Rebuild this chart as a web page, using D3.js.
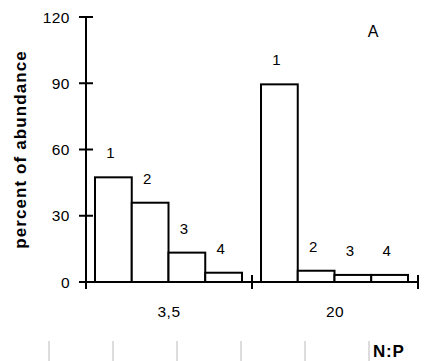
<!DOCTYPE html>
<html>
<head>
<meta charset="utf-8">
<script src="https://cdn.jsdelivr.net/npm/d3@7"></script>
<style>
  body { margin: 0; background: #fff; }
  svg { display: block; }
  text { font-family: "Liberation Sans", Arial, sans-serif; }
</style>
</head>
<body>
<div id="chart"></div>
<script>
// N:P ratio groups, four classes per group
const groups = ['3,5', '20'];
const classes = ['1', '2', '3', '4'];
const abundance35 = [47.4, 35.9, 13.3, 4.2];
const abundance20 = [89.5, 5.1, 3.2, 3.2];
const yTicks = [0, 30, 60, 90, 120];

(function() {
  const width = 426;
  const height = 361;
  const margin = { left: 86, right: 8, top: 17, bottom: 79 };

  const svg = d3.select('#chart').append('svg')
    .attr('width', width)
    .attr('height', height);

  const x0 = d3.scaleBand()
    .domain(groups)
    .range([margin.left, width - margin.right]);

  const x1 = d3.scaleBand()
    .domain(classes)
    .range([9, x0.bandwidth() - 10]);

  const y = d3.scaleLinear()
    .domain([0, 120])
    .range([height - margin.bottom, margin.top]);

  const rows = groups.map((g, i) => ({
    group: g,
    values: (i === 0 ? abundance35 : abundance20).map((v, j) => ({ cls: classes[j], value: v }))
  }));

  // bars
  const grp = svg.append('g').selectAll('g')
    .data(rows)
    .enter().append('g')
    .attr('transform', d => `translate(${x0(d.group)},0)`);

  grp.selectAll('rect')
    .data(d => d.values)
    .enter().append('rect')
    .attr('x', d => x1(d.cls))
    .attr('y', d => y(d.value))
    .attr('width', x1.bandwidth())
    .attr('height', d => y(0) - y(d.value))
    .attr('fill', '#fff')
    .attr('stroke', '#000')
    .attr('stroke-width', 2);

  grp.selectAll('text')
    .data(d => d.values)
    .enter().append('text')
    .attr('x', d => x1(d.cls) + x1.bandwidth() / 2 - 3)
    .attr('y', d => y(d.value) - 19)
    .attr('text-anchor', 'middle')
    .style('font-size', '15px')
    .text(d => d.cls);

  // y axis
  const yAxis = svg.append('g');
  yAxis.append('line')
    .attr('x1', margin.left).attr('x2', margin.left)
    .attr('y1', y(120)).attr('y2', y(0) + 7)
    .attr('stroke', '#000').attr('stroke-width', 2);
  yAxis.selectAll('.tick')
    .data(yTicks)
    .enter().append('line')
    .attr('x1', margin.left - 7).attr('x2', margin.left + 7)
    .attr('y1', d => y(d)).attr('y2', d => y(d))
    .attr('stroke', '#000').attr('stroke-width', 2);
  yAxis.selectAll('text')
    .data(yTicks)
    .enter().append('text')
    .attr('x', 70)
    .attr('y', d => y(d) + 5.5)
    .attr('text-anchor', 'end')
    .style('font-size', '15.5px')
    .style('letter-spacing', '0.5px')
    .text(d => d);

  // x axis
  const xAxis = svg.append('g');
  xAxis.append('line')
    .attr('x1', margin.left).attr('x2', width - margin.right)
    .attr('y1', y(0)).attr('y2', y(0))
    .attr('stroke', '#000').attr('stroke-width', 2);
  const bounds = groups.map(g => x0(g)).concat([x0(groups[groups.length - 1]) + x0.bandwidth()]);
  xAxis.selectAll('.tick')
    .data(bounds.slice(1))
    .enter().append('line')
    .attr('x1', d => d).attr('x2', d => d)
    .attr('y1', y(0) - 7).attr('y2', y(0) + 7)
    .attr('stroke', '#000').attr('stroke-width', 2);
  xAxis.selectAll('text')
    .data(groups)
    .enter().append('text')
    .attr('x', d => x0(d) + x0.bandwidth() / 2)
    .attr('y', y(0) + 35)
    .attr('text-anchor', 'middle')
    .style('font-size', '15.5px')
    .style('letter-spacing', '0.5px')
    .text(d => d);

  // axis title
  svg.append('text')
    .attr('transform', `translate(26,${(y(0) + y(120)) / 2}) rotate(-90)`)
    .attr('text-anchor', 'middle')
    .style('font-size', '17px')
    .style('font-weight', 'bold')
    .style('letter-spacing', '1.1px')
    .text('percent of abundance');

  svg.append('text')
    .attr('x', 373)
    .attr('y', 37)
    .attr('text-anchor', 'middle')
    .style('font-size', '16px')
    .text('A');

  // faint gridline stubs along the bottom
  const stubs = d3.range(6).map(i => 49 + i * 64);
  svg.append('g').selectAll('line')
    .data(stubs)
    .enter().append('line')
    .attr('x1', d => d).attr('x2', d => d)
    .attr('y1', 341).attr('y2', height)
    .attr('stroke', '#bbb').attr('stroke-width', 1);

  svg.append('text')
    .attr('x', 373)
    .attr('y', 357)
    .style('font-size', '17px')
    .style('font-weight', 'bold')
    .style('letter-spacing', '0.8px')
    .text('N:P');
})();
</script>
</body>
</html>
